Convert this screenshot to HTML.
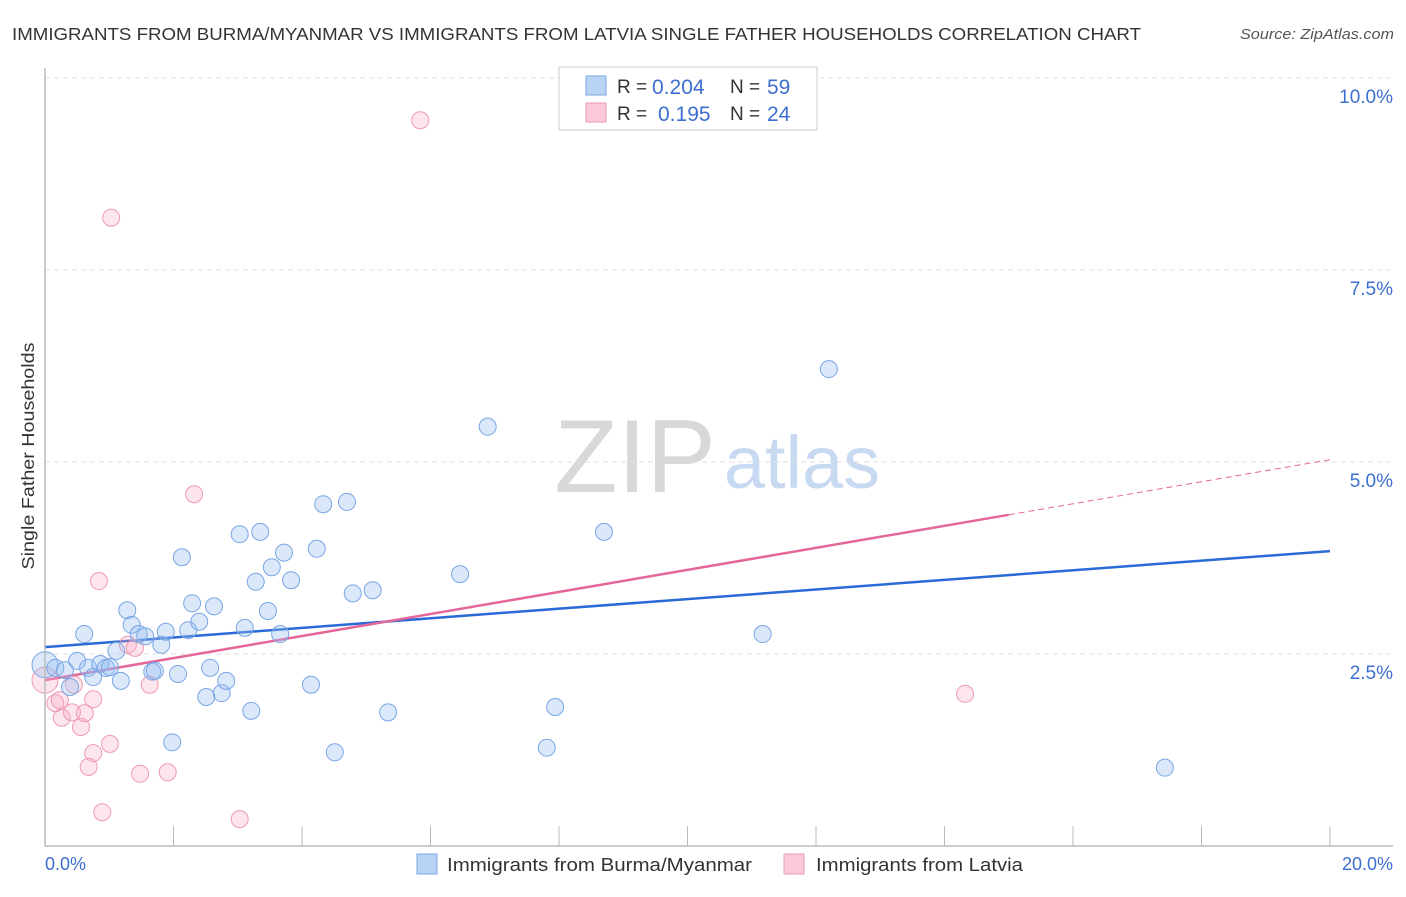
<!DOCTYPE html>
<html><head><meta charset="utf-8"><style>
body{margin:0;background:#fff;font-family:"Liberation Sans",sans-serif;}
svg text{font-family:"Liberation Sans",sans-serif;}
</style></head><body>
<svg id="chart" width="1406" height="892" xmlns="http://www.w3.org/2000/svg">
<text x="12" y="40" font-size="17.5" fill="#333" textLength="1129" lengthAdjust="spacingAndGlyphs">IMMIGRANTS FROM BURMA/MYANMAR VS IMMIGRANTS FROM LATVIA SINGLE FATHER HOUSEHOLDS CORRELATION CHART</text>
<text x="1240" y="39" font-size="15" font-style="italic" fill="#555" textLength="154" lengthAdjust="spacingAndGlyphs">Source: ZipAtlas.com</text>
<text transform="translate(34,456) rotate(-90)" font-size="17.5" fill="#333" text-anchor="middle" textLength="227" lengthAdjust="spacingAndGlyphs">Single Father Households</text>
<g>
<text x="635" y="492" font-size="104" font-family="Liberation Serif,serif" fill="#d8d8d8" text-anchor="middle">ZIP</text>
<text x="802" y="488" font-size="74" fill="#c8daf2" text-anchor="middle">atlas</text>
</g>
<g id="grid"></g><g id="lines"></g><g id="pts"></g>
<line x1="45" y1="68" x2="45" y2="846" stroke="#bbb" stroke-width="1.5"/>
<line x1="45" y1="846" x2="1393" y2="846" stroke="#bbb" stroke-width="1.5"/>
<text x="45" y="870" font-size="18" fill="#3d6fd0">0.0%</text>
<text x="1393" y="870" font-size="18" fill="#3d6fd0" text-anchor="end">20.0%</text>
<g>
<rect x="417" y="854" width="20" height="20" fill="#b9d3f5" stroke="#7aa7e6"/>
<text x="447" y="871" font-size="18.5" fill="#333" textLength="305" lengthAdjust="spacingAndGlyphs">Immigrants from Burma/Myanmar</text>
<rect x="784" y="854" width="20" height="20" fill="#fbc9d8" stroke="#ec9ab3"/>
<text x="816" y="871" font-size="18.5" fill="#333" textLength="207" lengthAdjust="spacingAndGlyphs">Immigrants from Latvia</text>
</g>
<g>
<rect x="559" y="67" width="258" height="63" fill="#fff" stroke="#ccc"/>
<rect x="586" y="76" width="20" height="19" fill="#b9d3f5" stroke="#7aa7e6"/>
<rect x="586" y="103" width="20" height="19" fill="#fbc9d8" stroke="#ec9ab3"/>
<text x="617" y="93" font-size="19" fill="#333">R =</text>
<text x="652" y="94" font-size="21" fill="#3d6fd0">0.204</text>
<text x="730" y="93" font-size="19" fill="#333">N =</text>
<text x="767" y="94" font-size="21" fill="#3d6fd0">59</text>
<text x="617" y="120" font-size="19" fill="#333">R =</text>
<text x="658" y="121" font-size="21" fill="#3d6fd0">0.195</text>
<text x="730" y="120" font-size="19" fill="#333">N =</text>
<text x="767" y="121" font-size="21" fill="#3d6fd0">24</text>
</g>
</svg>
<script>
const yTicks=[2.5,5.0,7.5,10.0];
const xTickVals=[0,2,4,6,8,10,12,14,16,18,20];
const burmaX=[0,0.16,0.31,0.50,0.61,0.39,0.67,0.75,0.86,0.95,1.01,1.11,1.18,1.28,1.35,1.46,1.56,1.67,1.71,1.81,1.88,1.98,2.07,2.13,2.23,2.29,2.40,2.51,2.57,2.63,2.75,2.82,3.03,3.11,3.21,3.28,3.35,3.47,3.53,3.66,3.72,3.83,4.14,4.23,4.33,4.51,4.70,4.79,5.10,5.34,6.46,6.89,7.81,7.94,8.70,11.17,12.20,17.43];
const burmaY=[2.36,2.32,2.29,2.41,2.76,2.07,2.32,2.20,2.37,2.32,2.33,2.54,2.15,3.07,2.88,2.76,2.73,2.27,2.28,2.62,2.79,1.35,2.24,3.76,2.81,3.16,2.92,1.94,2.32,3.12,1.99,2.15,4.06,2.84,1.76,3.44,4.09,3.06,3.63,2.76,3.82,3.46,2.10,3.87,4.45,1.22,4.48,3.29,3.33,1.74,3.54,5.46,1.28,1.81,4.09,2.76,6.21,1.02];
const latviaX=[5.84,1.03,2.32,0.84,1.29,1.40,1.63,0.16,0.26,0.42,0.56,0.62,0.75,0.45,1.01,0.75,0.68,1.48,1.91,0.89,3.03,14.32,0,0.23];
const latviaY=[9.45,8.18,4.58,3.45,2.62,2.58,2.10,1.86,1.67,1.74,1.55,1.73,1.91,2.10,1.33,1.21,1.03,0.94,0.96,0.44,0.35,1.98,2.16,1.90];
const burmaTrend=[2.59,3.84];
const latviaTrend=[2.16,5.03];
const latviaSolidEnd=15.0;
const NS="http://www.w3.org/2000/svg";
const sx=v=>45+v/20*1285, sy=v=>846-v/2.5*192;
function mk(tag,attrs,parent){const e=document.createElementNS(NS,tag);for(const k in attrs)e.setAttribute(k,attrs[k]);document.getElementById(parent).appendChild(e);return e;}
yTicks.forEach(t=>{
 const l=mk('line',{x1:45,x2:1393,y1:sy(t),y2:sy(t),stroke:'#ddd','stroke-dasharray':'5,4'},'grid');
 
 
 const tx=mk('text',{x:1393,y:sy(t)+25,'font-size':19,fill:'#3d6fd0','text-anchor':'end'},'grid');
 tx.textContent=t.toFixed(1)+'%';
 
 
});
xTickVals.forEach(t=>{
 const l=mk('line',{x1:sx(t),x2:sx(t),y1:826,y2:846,stroke:'#bbb'},'grid');
 
 
});
function pts(X,Y,fill,stroke,name){X.forEach((x,i)=>{
 const big=(x===0);
 const c=mk('circle',{cx:sx(x),cy:sy(Y[i]),r:big?13:8.5,fill:fill,stroke:stroke,'stroke-width':1},'pts');
 
 
});}
pts(latviaX,latviaY,'rgba(248,170,196,0.3)','#ee9ab4','point-latvia');
pts(burmaX,burmaY,'rgba(150,190,240,0.35)','#79a6e4','point-burma');
const b=mk('line',{x1:sx(0),y1:sy(burmaTrend[0]),x2:sx(20),y2:sy(burmaTrend[1]),stroke:'#2a6ad6','stroke-width':2.5},'lines');


const ly=x=>latviaTrend[0]+(latviaTrend[1]-latviaTrend[0])*x/20;
const p=mk('line',{x1:sx(0),y1:sy(ly(0)),x2:sx(latviaSolidEnd),y2:sy(ly(latviaSolidEnd)),stroke:'#e4679a','stroke-width':2.5},'lines');


const pd=mk('line',{x1:sx(latviaSolidEnd),y1:sy(ly(latviaSolidEnd)),x2:sx(20),y2:sy(ly(20)),stroke:'#e4679a','stroke-width':1,'stroke-dasharray':'6,4'},'lines');


</script>
</body></html>
